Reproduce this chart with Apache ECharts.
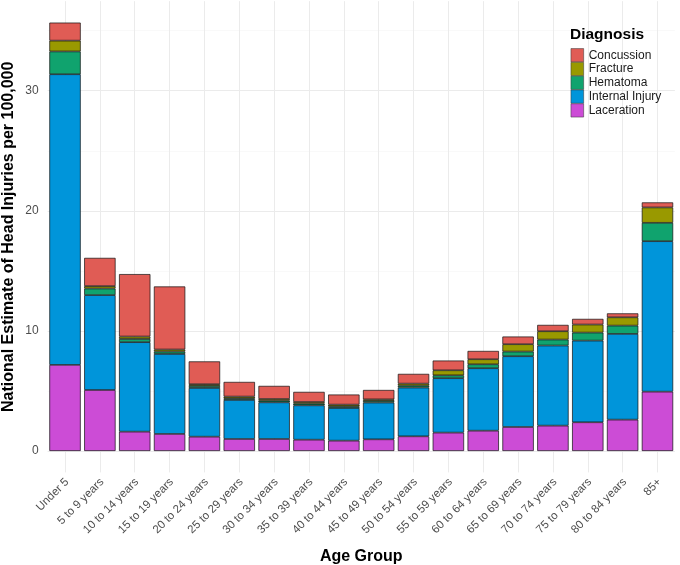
<!DOCTYPE html>
<html>
<head>
<meta charset="utf-8">
<script src="https://cdn.jsdelivr.net/npm/echarts@6/dist/echarts.min.js"></script>
<style>html,body{margin:0;padding:0;background:#fff;}#c{width:680px;height:565px;}</style>
</head>
<body>
<div id="c"></div>
<script>
const categories = ["Under 5","5 to 9 years","10 to 14 years","15 to 19 years","20 to 24 years","25 to 29 years","30 to 34 years","35 to 39 years","40 to 44 years","45 to 49 years","50 to 54 years","55 to 59 years","60 to 64 years","65 to 69 years","70 to 74 years","75 to 79 years","80 to 84 years","85+"];
const laceration     = [7.17, 5.08, 1.61, 1.42, 1.19, 1.00, 1.00, 0.94, 0.86, 0.97, 1.22, 1.53, 1.69, 2.00, 2.11, 2.39, 2.61, 4.94];
const internalInjury = [24.2, 7.90, 7.45, 6.66, 4.06, 3.25, 3.05, 2.86, 2.72, 3.06, 4.06, 4.53, 5.20, 5.89, 6.67, 6.80, 7.14, 12.53];
const hematoma       = [1.90, 0.55, 0.27, 0.20, 0.17, 0.14, 0.14, 0.14, 0.14, 0.14, 0.16, 0.24, 0.33, 0.39, 0.50, 0.67, 0.69, 1.53];
const fracture       = [0.90, 0.20, 0.20, 0.17, 0.14, 0.14, 0.14, 0.14, 0.14, 0.13, 0.17, 0.42, 0.42, 0.61, 0.69, 0.67, 0.69, 1.28];
const concussion     = [1.50, 2.35, 5.20, 5.25, 1.90, 1.22, 1.09, 0.84, 0.84, 0.78, 0.81, 0.81, 0.69, 0.64, 0.53, 0.47, 0.33, 0.42];
const yTicks = [0, 10, 20, 30];

const colors = {
  "Concussion": "#E05C55",
  "Fracture": "#999900",
  "Hematoma": "#10A36E",
  "Internal Injury": "#0095DA",
  "Laceration": "#CC4CD6"
};
const stackOrder = [["Laceration", laceration],["Internal Injury", internalInjury],["Hematoma", hematoma],["Fracture", fracture],["Concussion", concussion]];

const totalMax = Math.max(...categories.map((_, i) => stackOrder.reduce((s, d) => s + d[1][i], 0)));
const pad = totalMax * 0.05;

const chart = echarts.init(document.getElementById('c'), null, {renderer: 'canvas'});
chart.setOption({
  animation: false,
  backgroundColor: '#ffffff',
  textStyle: {fontFamily: 'Liberation Sans, Arial, sans-serif'},
  title: {
    text: 'Diagnosis', left: 570, top: 27, padding: 0,
    textStyle: {fontSize: 15.5, fontWeight: 'bold', color: '#000', fontFamily: 'Liberation Sans, Arial, sans-serif'}
  },
  legend: {
    orient: 'vertical', left: 570.7, top: 48.3, padding: 0,
    itemWidth: 12.7, itemHeight: 13.3, itemGap: 0,
    icon: 'rect',
    itemStyle: {borderWidth: 0.5, borderColor: '#333'},
    data: ["Concussion","Fracture","Hematoma","Internal Injury","Laceration"],
    textStyle: {fontSize: 12, color: '#1a1a1a'}
  },
  grid: {left: 47.6, width: 627.3, top: 1.2, height: 471.2, containLabel: false, outerBoundsMode: 'none'},
  xAxis: {
    type: 'category', data: categories,
    name: 'Age Group', nameLocation: 'middle', nameGap: 76,
    nameTextStyle: {fontSize: 16, fontWeight: 'bold', color: '#000'},
    axisLine: {show: false}, axisTick: {show: false},
    axisLabel: {rotate: 45, fontSize: 11.5, color: '#4d4d4d', margin: 10, padding: [0, -3, 0, 0], interval: 0},
    splitLine: {show: true, alignWithLabel: true, lineStyle: {color: '#ebebeb', width: 1}}
  },
  yAxis: {
    type: 'value', min: -pad, max: totalMax + pad,
    name: 'National Estimate of Head Injuries per 100,000', nameLocation: 'middle', nameGap: 31,
    nameMoveOverlap: false,
    nameTextStyle: {fontSize: 16, fontWeight: 'bold', color: '#000'},
    axisLine: {show: false}, axisTick: {show: false},
    axisLabel: {
      fontSize: 12, color: '#4d4d4d', margin: 9,
      showMinLabel: false, showMaxLabel: false,
      formatter: v => (yTicks.indexOf(Math.round(v * 1000) / 1000) >= 0 ? String(v) : '')
    },
    splitLine: {show: true, showMinLine: false, showMaxLine: false, lineStyle: {color: '#ebebeb', width: 1}},
    minorTick: {show: false, splitNumber: 2},
    minorSplitLine: {show: true, lineStyle: {color: '#f5f5f5', width: 0.6}}
  },
  series: stackOrder.map(([name, vals]) => ({
    name, type: 'bar', stack: 'total', data: vals,
    barCategoryGap: '10%',
    itemStyle: {color: colors[name], borderColor: '#111111', borderWidth: 0.7}
  }))
});
</script>
</body>
</html>
